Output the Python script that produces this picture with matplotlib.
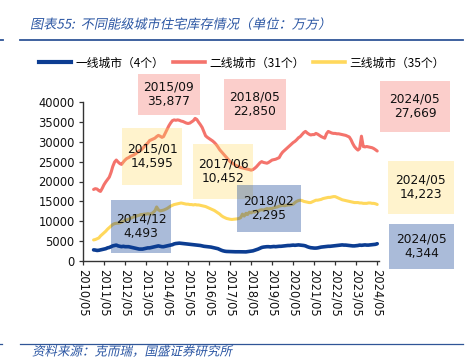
import matplotlib
matplotlib.use('Agg')
import matplotlib.pyplot as plt
import matplotlib.dates as mdates
import matplotlib.patheffects as pe
from matplotlib.patches import Rectangle
from matplotlib.lines import Line2D
from matplotlib.transforms import Affine2D
from matplotlib.font_manager import FontProperties
import pandas as pd

# ---------------- data (monthly, from 2010/11 to 2024/05) ----------------
start_month = '2010-11-01'
series_labels = ['一线城市（4个）', '二线城市（31个）', '三线城市（35个）']

tier1 = [2800, 2750, 2650, 2700, 2800, 2900, 3000, 3100, 3300, 3400, 3600, 3800,
         3900, 4000, 3800, 3700, 3600, 3700, 3600, 3600, 3600, 3500, 3400, 3300,
         3200, 3100, 3000, 3000, 3000, 3100, 3200, 3300, 3300, 3400, 3500, 3600,
         3700, 3800, 3700, 3600, 3600, 3700, 3800, 3900, 4000, 4100, 4300, 4400,
         4450, 4493, 4450, 4400, 4350, 4300, 4250, 4200, 4150, 4100, 4050, 4000,
         3950, 3900, 3800, 3700, 3650, 3600, 3550, 3500, 3400, 3300, 3200, 3100,
         2900, 2700, 2550, 2450, 2400, 2380, 2350, 2350, 2330, 2320, 2330, 2320,
         2310, 2300, 2300, 2295, 2350, 2400, 2450, 2550, 2700, 2850, 3000, 3200,
         3400, 3500, 3550, 3600, 3600, 3550, 3600, 3650, 3600, 3650, 3700, 3700,
         3750, 3800, 3850, 3900, 3900, 3950, 4000, 3950, 4000, 4050, 4000, 3950,
         3900, 3800, 3600, 3450, 3350, 3300, 3250, 3250, 3300, 3400, 3500, 3550,
         3600, 3650, 3700, 3700, 3750, 3800, 3850, 3900, 3950, 4000, 4050, 4000,
         4000, 3950, 3900, 3850, 3800, 3800, 3850, 3900, 4000, 3950, 4000, 4050,
         4000, 4000, 4050, 4100, 4150, 4200, 4344]

tier2 = [18000, 18200, 18100, 17700, 17500, 18300, 19200, 19900, 20500, 21100, 22300, 23800,
         24900, 25400, 24900, 24500, 24300, 24900, 25400, 25800, 26000, 26300, 26500, 26700,
         27000, 27300, 27700, 27900, 28300, 28800, 29300, 29700, 30300, 30500, 30700, 30900,
         31300, 31600, 31400, 31100, 31300, 32200, 33100, 34000, 34700, 35300, 35500, 35400,
         35500, 35400, 35200, 35100, 34900, 34700, 34600, 34700, 35000, 35300, 35877, 35600,
         34900, 34300, 33600, 32500, 31500, 31100, 30800, 30500, 30200, 29800, 29300, 28700,
         28000, 27500, 27000, 26500, 26000, 25500, 25000, 24700, 24400, 24100, 23900, 23700,
         23500, 23400, 23300, 23200, 23100, 23000, 22850, 23000, 23300, 23700, 24200, 24700,
         25000, 24800, 24700, 24600, 24800, 25100, 25400, 25500, 25600, 25800, 26000, 26800,
         27400, 27800, 28200, 28600, 29000, 29400, 29800, 30100, 30500, 31000, 31300, 31800,
         32300, 32600, 32200, 31900, 31700, 31800, 31800, 32100, 31900, 31600, 31300, 31100,
         30900, 32000, 32600, 32400, 32200, 32100, 32100, 32000, 32000, 31900, 31800, 31700,
         31600, 31400, 31200, 30500, 29600, 28800, 28300, 27900, 28300, 31400, 28800, 28700,
         28800, 28700, 28600, 28500, 28300, 28000, 27669]

tier3 = [5300, 5400, 5600, 5800, 6300, 6700, 7100, 7500, 8000, 8400, 8800, 9200,
         9400, 9500, 9500, 9600, 9800, 10000, 10200, 10400, 10500, 10700, 10900, 11100,
         11200, 11400, 11500, 11700, 11700, 11800, 11800, 11900, 11800, 11900, 12200, 12600,
         13600, 12900, 12600, 12700, 12800, 13000, 13200, 13500, 13800, 14000, 14200, 14300,
         14400, 14500, 14595, 14500, 14400, 14300, 14300, 14200, 14200, 14100, 14200, 14100,
         14100, 14000, 13900, 13800, 13700, 13500, 13300, 13100, 12900, 12700, 12400, 12100,
         11800, 11400, 11100, 10900, 10700, 10600, 10500, 10452, 10500, 10550, 10600, 10700,
         10900, 11800, 11300, 12000, 11700, 12300, 12100, 12400, 12300, 12600, 12500, 12800,
         12900, 12800, 13000, 13200, 13100, 13200, 13200, 13400, 13500, 13600, 13800, 13900,
         14000, 13900, 14000, 14100, 14100, 14200, 14300, 14700, 15000, 15200, 15300, 15200,
         15000, 14900, 14800, 14700, 14700, 14900, 15100, 15300, 15300, 15400, 15500, 15700,
         15800, 15900, 16000, 16000, 16100, 16200, 16200, 16000, 15800, 15600, 15400, 15300,
         15200, 15100, 15000, 14900, 14800, 14700, 14700, 14700, 14600, 14600, 14500, 14500,
         14500, 14600, 14600, 14500, 14500, 14400, 14223]

# annotation boxes: (text, series index)
ann_texts = ['2015/09\n35,877', '2018/05\n22,850', '2024/05\n27,669',
             '2015/01\n14,595', '2017/06\n10,452', '2024/05\n14,223',
             '2014/12\n4,493', '2018/02\n2,295', '2024/05\n4,344']
ann_series = [1, 1, 1, 2, 2, 2, 0, 0, 0]

x_ticks = pd.date_range('2010-05-01', '2024-05-01', freq='12MS')
y_ticks = [0, 5000, 10000, 15000, 20000, 25000, 30000, 35000, 40000]

title = '图表55:  不同能级城市住宅库存情况（单位：万方）'
source = '资料来源：克而瑞，国盛证券研究所'

# ---------------- styling ----------------
colors = ['#0c3d92', '#f4736c', '#ffd85c']
lws = [2.6, 2.2, 2.2]
box_alpha = [0.35, 0.35, 0.3]
# box pixel rectangles (x0, y0, x1, y1) in figure pixels (top-left origin)
box_px = [(138, 74, 200, 115), (224, 79, 286, 130), (380, 81, 450, 132),
          (122, 128, 182, 185), (193, 144, 253, 199), (388, 161, 454, 214),
          (111, 200, 171, 253), (237, 185, 301, 232), (389, 224, 454, 269)]

W, H, DPI = 466, 363, 100
fig = plt.figure(figsize=(W / DPI, H / DPI), dpi=DPI)
fig.patch.set_facecolor('white')


def fx(px):
    return px / W


def fy(py):
    return 1 - py / H


class Skew(pe.AbstractPathEffect):
    def __init__(self, deg=12):
        super().__init__()
        self.deg = deg

    def draw_path(self, renderer, gc, tpath, affine, rgbFace=None):
        renderer.draw_path(gc, tpath, Affine2D().skew_deg(self.deg, 0) + affine, rgbFace)


cjk = ['Noto Sans CJK SC', 'DejaVu Sans']
num_font = 'DejaVu Sans'
blue_txt = '#2b56a3'

ax = fig.add_axes([fx(83), fy(261), fx(379) - fx(83), fy(102) - fy(261)])

data = [tier1, tier2, tier3]
for vals, c, lw in zip(data, colors, lws):
    dates = pd.date_range(start_month, periods=len(vals), freq='MS')
    ax.plot(dates, vals, color=c, lw=lw, solid_capstyle='round', solid_joinstyle='round')

ax.set_xlim(pd.Timestamp('2010-05-01'), pd.Timestamp('2024-06-01'))
ax.set_ylim(0, 40000)
ax.set_xticks(x_ticks)
ax.set_xticklabels([d.strftime('%Y/%m') for d in x_ticks], rotation=-90,
                   fontsize=8.3, family=num_font, va='top', ha='center')
ax.set_yticks(y_ticks)
ax.set_yticklabels([str(v) for v in y_ticks], fontsize=8.3, family=num_font)
for s in ['top', 'right']:
    ax.spines[s].set_visible(False)
for s in ['left', 'bottom']:
    ax.spines[s].set_color('#333333')
    ax.spines[s].set_linewidth(1.0)
ax.tick_params(axis='both', direction='out', length=3, width=0.9, color='#333333',
               labelcolor='#111111')
ax.tick_params(axis='y', pad=3)
ax.tick_params(axis='x', pad=3)
ax.patch.set_alpha(0)

# legend
handles = [Line2D([], [], color=c, lw=lw + 0.4) for c, lw in zip(colors, lws)]
fig.legend(handles, series_labels, loc='center', bbox_to_anchor=(fx(242), fy(63)),
           ncol=3, frameon=False, handlelength=2.7, handletextpad=0.35,
           columnspacing=0.75, borderaxespad=0, borderpad=0,
           prop=FontProperties(family=cjk, size=8.5))

# annotation boxes
for (x0, y0, x1, y1), txt, si in zip(box_px, ann_texts, ann_series):
    fig.add_artist(Rectangle((fx(x0), fy(y1)), fx(x1) - fx(x0), fy(y0) - fy(y1),
                             transform=fig.transFigure, facecolor=colors[si],
                             alpha=box_alpha[si], edgecolor='none', zorder=3))
    fig.text(fx((x0 + x1) / 2), fy((y0 + y1) / 2), txt, ha='center', va='center',
             fontsize=8.8, family=num_font, color='#111111', linespacing=1.15, zorder=4)

# title and rules
fig.text(fx(30), fy(25), title, ha='left', va='center', fontsize=9.5, family=cjk,
         color=blue_txt, path_effects=[Skew(12)])
fig.add_artist(Line2D([fx(20), fx(463)], [fy(39.5), fy(39.5)], transform=fig.transFigure,
                      color='#2f5597', lw=1.3))
fig.add_artist(Line2D([fx(0), fx(3)], [fy(39.5), fy(39.5)], transform=fig.transFigure,
                      color='#2f5597', lw=1.3))
fig.add_artist(Line2D([fx(20), fx(463)], [fy(343.5), fy(343.5)], transform=fig.transFigure,
                      color='#2f5597', lw=0.9))
fig.add_artist(Line2D([fx(0), fx(2)], [fy(343.5), fy(343.5)], transform=fig.transFigure,
                      color='#2f5597', lw=0.9))
fig.text(fx(32), fy(352), source, ha='left', va='center', fontsize=9, family=cjk,
         color=blue_txt, path_effects=[Skew(12)])

fig.savefig('out.png', dpi=DPI, facecolor='white')
